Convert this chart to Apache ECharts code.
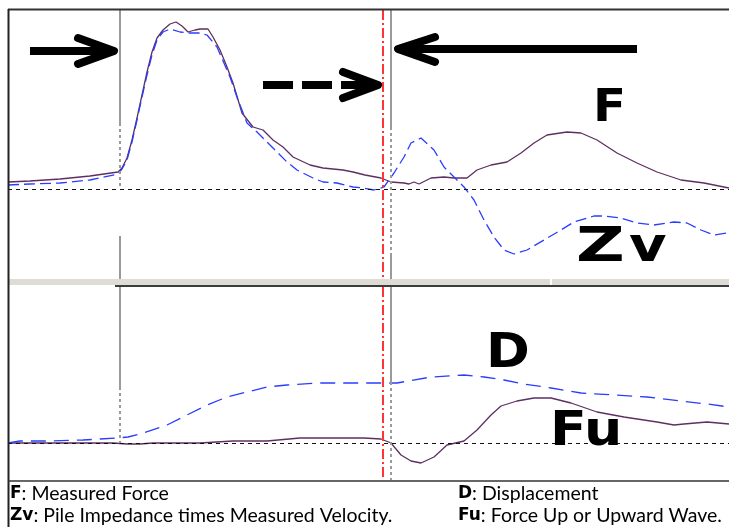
<!DOCTYPE html>
<html>
<head>
<meta charset="utf-8">
<script src="https://cdn.jsdelivr.net/npm/echarts@6/dist/echarts.min.js"></script>
<style>
html,body{margin:0;padding:0;background:#fff;}
#chart{width:729px;height:527px;}
</style>
</head>
<body>
<div id="chart"></div>
<script>
// time axis (arbitrary units)
const F = [[0,7],[2.2,8],[5.2,10],[8.2,13],[11,17],[11.4,21],[11.9,31],[12.4,49],[12.9,71],[13.4,94],[13.9,117],[14.4,137],[14.9,151],[15.5,159],[16.2,165],[16.8,167],[17.4,163],[18,157],[18.7,159],[19.2,160],[20,160],[20.5,152],[21.2,139],[21.9,122],[22.5,106],[23.4,76],[24.5,62],[25.5,59],[26.5,49],[27.5,42],[28.5,32],[30.2,24],[31.5,21],[33.5,19],[34.5,17],[35.7,14],[37.3,11],[38.3,7],[39.6,6],[40.1,5],[40.6,7],[41.1,5],[42.3,11],[43.6,12],[44.6,11],[45.9,11],[46.9,19],[48.3,24],[49.9,27],[51.3,36],[52.6,46],[53.9,54],[55.9,57],[57.3,56],[58.9,49],[60.9,36],[62.9,26],[64.9,17],[67.3,9],[69.6,6],[72.1,1]];
const Zv = [[0,4],[2.2,5],[5.2,6],[8.2,9],[11,15],[11.4,20],[11.9,29],[12.4,47],[12.9,69],[13.4,92],[13.9,114],[14.4,134],[14.9,149],[15.5,157],[16.2,160],[17.2,157],[18,156],[18.5,156],[19.2,156],[19.9,154],[20.9,142],[22.2,112],[23,89],[23.9,66],[24.9,57],[25.9,47],[27.9,27],[28.9,19],[30.5,11],[31.5,7],[32.9,6],[34.5,2],[35.5,1],[36.6,-1],[37.6,2],[38.6,16],[39.6,32],[40.3,46],[41.3,51],[42.6,39],[43.6,22],[44.6,12],[45.6,2],[46.6,-11],[47.6,-31],[48.6,-48],[49.6,-61],[50.6,-65],[51.9,-61],[53.6,-51],[55.3,-41],[56.6,-33],[58.6,-27],[59.6,-27],[61.3,-29],[62.9,-34],[64.6,-36],[66.6,-33],[67.9,-34],[69.3,-41],[70.6,-46],[71.9,-44]];
const D = [[0,0],[1.2,2],[4.2,2],[7.5,3],[10.9,5],[12,6],[13.2,9],[15.9,18],[17.9,28],[19.9,38],[21.9,46],[23.9,51],[25.9,56],[27.9,58],[30.9,60],[35.7,60],[38.9,60],[42.3,66],[45.6,68],[47.6,66],[49.6,63],[51.6,59],[54.3,55],[57.3,50],[60.6,48],[63.9,46],[67.3,42],[69.9,39],[72.1,36]];
const Fu = [[0,0],[2.5,0],[10.5,0],[11.9,-1],[13.2,-1],[14.5,0],[19.2,0],[22.5,2],[25.9,2],[29.2,5],[32.5,5],[35.6,5],[37.3,4],[38.3,0],[39.3,-12],[40.3,-18],[41.3,-20],[42.6,-14],[43.9,-2],[45.6,2],[46.9,13],[48.3,28],[49.3,37],[50.9,42],[52.6,45],[54.3,45],[56.3,40],[58.9,31],[61.6,26],[64.9,21],[66.6,18],[67.6,19],[69.9,21],[72.1,19]];
// marker times
const tStart = 11.2, tRed = 37.5, tReturn = 38.3;
const xMin = 0, xMax = 72.1;
const topRange = [-91, 179], botRange = [-37, 156];
const labels = {F:'F', Z:'Z', v:'v', D:'D', Fu:'Fu'};
const legendLines = [
  [['F',': Measured Force'],['D',': Displacement']],
  [['Zv',': Pile Impedance times Measured Velocity.'],['Fu',': Force Up or Upward Wave.']]
];

const chart = echarts.init(document.getElementById('chart'), null, {renderer:'canvas'});
const purple = '#5f2f62', blue = '#2a3cff', gray = '#9a9a9a', red = '#ff3434';

function seg(t, a, b, type, color, width){
  return [{coord:[t,a], lineStyle:{type:type, color:color, width:width}}, {coord:[t,b]}];
}
const mlBase = {silent:true, symbol:['none','none'], label:{show:false}, emphasis:{disabled:true}, animation:false};

const option = {
  animation:false,
  grid:[{left:8, top:10, width:721, height:270, show:false},{left:8, top:287, width:721, height:193, show:false}],
  xAxis:[{gridIndex:0,type:'value',min:xMin,max:xMax,show:false},{gridIndex:1,type:'value',min:xMin,max:xMax,show:false}],
  yAxis:[{gridIndex:0,type:'value',min:topRange[0],max:topRange[1],show:false},{gridIndex:1,type:'value',min:botRange[0],max:botRange[1],show:false}],
  series:[
    {type:'line', xAxisIndex:0, yAxisIndex:0, data:[], markLine:Object.assign({}, mlBase, {
      lineStyle:{color:gray,width:2},
      data:[
        [{yAxis:0, x:8, lineStyle:{type:[4,4],color:'#111',width:1}},{yAxis:0, x:729}],
        seg(tStart,179,66,'solid',gray,2), seg(tStart,66,0,[3,3],gray,2), seg(tStart,-47,-91,'solid',gray,2),
        seg(tReturn,179,62,'solid',gray,2), seg(tReturn,62,-64,[3,3],gray,2), seg(tReturn,-64,-91,'solid',gray,2),
        seg(tRed,179,-91,[10,3,2,3],red,2)
      ]})},
    {type:'line', xAxisIndex:1, yAxisIndex:1, data:[], markLine:Object.assign({}, mlBase, {
      lineStyle:{color:gray,width:2},
      data:[
        [{yAxis:0, x:8, lineStyle:{type:[4,4],color:'#111',width:1}},{yAxis:0, x:729}],
        seg(tStart,156,56,'solid',gray,2), seg(tStart,56,0,[3,3],gray,2),
        seg(tReturn,156,61,'solid',gray,2), seg(tReturn,61,-37,[3,3],gray,2),
        seg(tRed,156,-37,[10,3,2,3],red,2)
      ]})},
    {name:'F', type:'line', xAxisIndex:0, yAxisIndex:0, data:F, symbol:'none', lineStyle:{color:purple,width:1.3}, z:3},
    {name:'Zv', type:'line', xAxisIndex:0, yAxisIndex:0, data:Zv, symbol:'none', lineStyle:{color:blue,width:1.3,type:[11,5]}, z:4},
    {name:'D', type:'line', xAxisIndex:1, yAxisIndex:1, data:D, symbol:'none', lineStyle:{color:blue,width:1.3,type:[15,8]}, z:4},
    {name:'Fu', type:'line', xAxisIndex:1, yAxisIndex:1, data:Fu, symbol:'none', lineStyle:{color:purple,width:1.3}, z:3}
  ],
  graphic:[]
};

const g = option.graphic;
// frame
g.push({type:'line', shape:{x1:8,y1:9.5,x2:729,y2:9.5}, style:{stroke:'#333',lineWidth:2}, z:50});
g.push({type:'line', shape:{x1:8.5,y1:9,x2:8.5,y2:527}, style:{stroke:'#222',lineWidth:2}, z:50});
g.push({type:'line', shape:{x1:8,y1:481,x2:729,y2:481}, style:{stroke:'#333',lineWidth:1.5}, z:50});
// panel separator
g.push({type:'rect', shape:{x:9,y:279,width:720,height:6}, style:{fill:'#dedcd4'}, z:40});
g.push({type:'line', shape:{x1:115,y1:286,x2:729,y2:286}, style:{stroke:'#3c3c3c',lineWidth:2}, z:41});
g.push({type:'rect', shape:{x:550,y:279,width:2,height:6}, style:{fill:'#fff'}, z:42});
// arrows
g.push({type:'polyline', shape:{points:[[30,51],[112,51]]}, style:{stroke:'#000',lineWidth:8,lineCap:'butt'}, z:60});
g.push({type:'polyline', shape:{points:[[78,38],[114,51],[78,64]]}, style:{stroke:'#000',lineWidth:8,lineCap:'round',lineJoin:'round',fill:null}, z:60});
g.push({type:'polyline', shape:{points:[[263,85],[372,85]]}, style:{stroke:'#000',lineWidth:8,lineCap:'butt',lineDash:[30,9]}, z:60});
g.push({type:'polyline', shape:{points:[[343,72],[378,85],[343,98]]}, style:{stroke:'#000',lineWidth:8,lineCap:'round',lineJoin:'round',fill:null}, z:60});
g.push({type:'polyline', shape:{points:[[399,49],[637,49]]}, style:{stroke:'#000',lineWidth:8,lineCap:'butt'}, z:60});
g.push({type:'polyline', shape:{points:[[435,37],[398,49],[435,62]]}, style:{stroke:'#000',lineWidth:8,lineCap:'round',lineJoin:'round',fill:null}, z:60});
// big labels
g.push({type:'text', x:593, y:110, style:{text:labels.F, font:'bold 44px "DejaVu Sans"', fill:'#000', textVerticalAlign:'middle'}, scaleX:1.1, z:60});
g.push({type:'text', x:576, y:249, style:{text:labels.Z, font:'bold 48px "DejaVu Sans"', fill:'#000', textVerticalAlign:'middle'}, scaleX:1.4, z:60});
g.push({type:'text', x:629, y:249, style:{text:labels.v, font:'bold 48px "DejaVu Sans"', fill:'#000', textVerticalAlign:'middle'}, scaleX:1.2, z:60});
g.push({type:'text', x:486, y:355, style:{text:labels.D, font:'bold 48px "DejaVu Sans"', fill:'#000', textVerticalAlign:'middle'}, scaleX:1.1, z:60});
g.push({type:'text', x:550, y:433, style:{text:labels.Fu, font:'bold 48px "DejaVu Sans"', fill:'#000', textVerticalAlign:'middle'}, scaleX:1.12, z:60});
// legend text
const cols = [10, 458], rows = [494, 516];
legendLines.forEach((line, r) => {
  line.forEach((item, c) => {
    g.push({type:'text', x:cols[c], y:rows[r], z:60, style:{
      text:'{b|'+item[0]+'}{n|'+item[1]+'}', textVerticalAlign:'middle',
      rich:{b:{font:'bold 17px "DejaVu Sans"', fill:'#000'}, n:{font:'19.5px Lato', fill:'#000'}}
    }});
  });
});

chart.setOption(option);
</script>
</body>
</html>
